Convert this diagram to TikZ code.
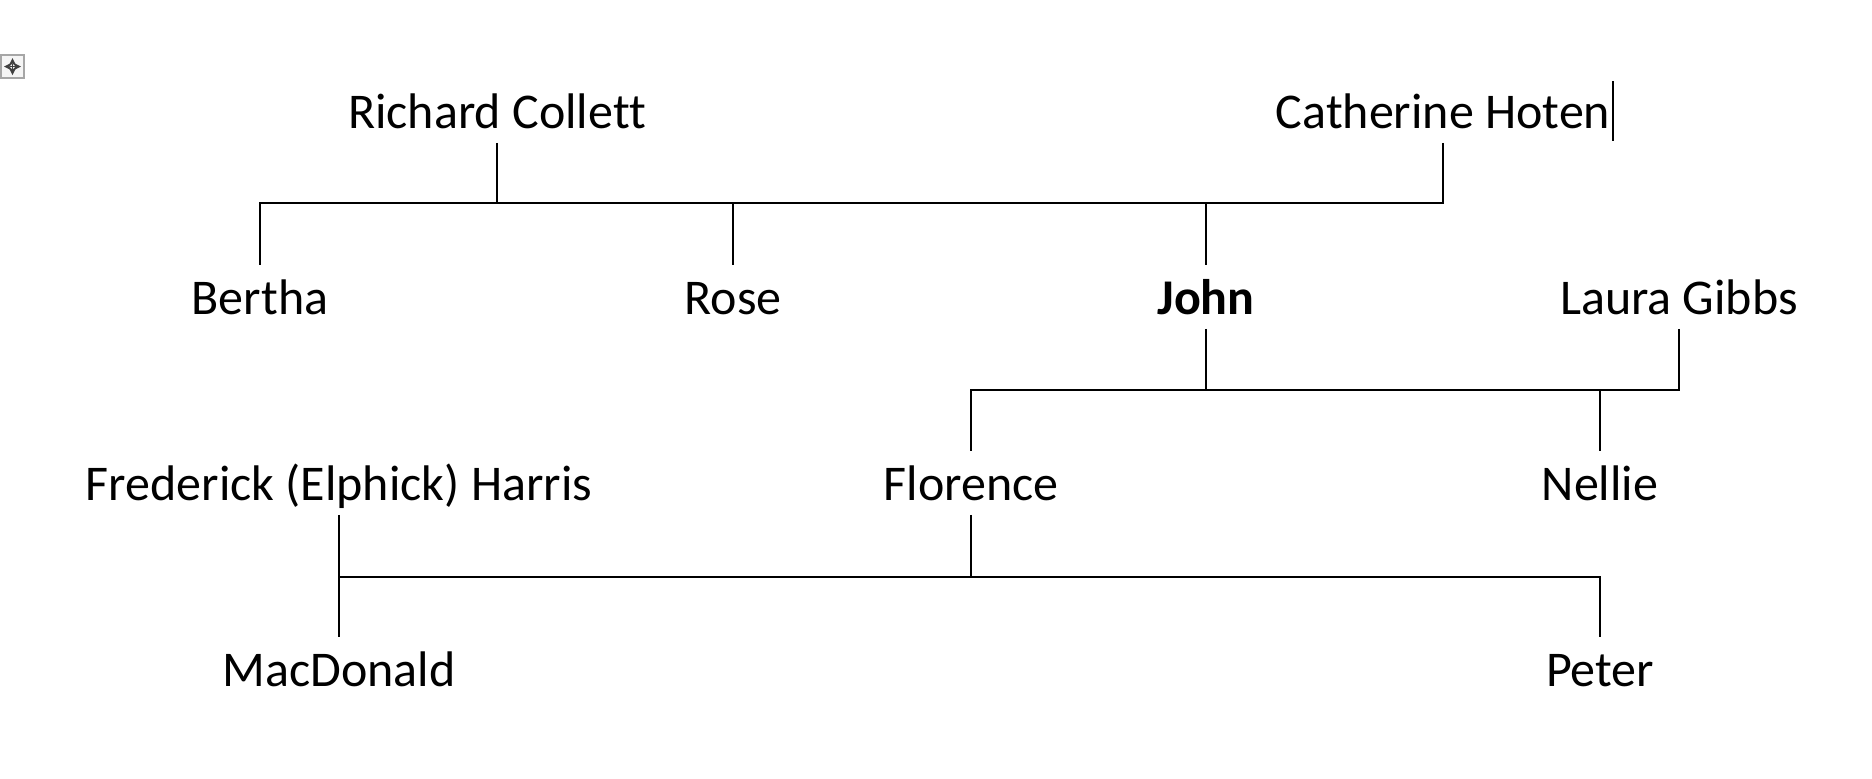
\documentclass[tikz,border=0pt]{standalone}
\usepackage{fontspec}
\setmainfont{Carlito}[Ligatures=NoCommon]

\begin{document}
\begin{tikzpicture}[x=0.5pt,y=-0.5pt,line width=0.9pt]
  \tikzstyle{person}=[anchor=base,inner xsep=0pt,inner ysep=7pt,text height=17pt,text depth=0pt,font=\fontsize{25}{30}\selectfont]
  \useasboundingbox (0,0) rectangle (1872,778);

  % move handle and text cursor
  \draw[gray!70,fill=gray!8,line width=0.8pt] (1,55) rectangle (24,78);
  \draw[black!75,line width=0.9pt,<->,>=stealth] (12.5,58) -- (12.5,75);
  \draw[black!75,line width=0.9pt,<->,>=stealth] (4,66.5) -- (21,66.5);
  \draw[line width=1pt] (1613,81) -- (1613,141);

  \node[person] (Richard) at (497,128) {Richard Collett};
  \node[person] (Catherine) at (1443,128) {Catherine Hoten};
  \node[person] (Bertha) at (260,314) {Bertha};
  \node[person] (Rose) at (733,314) {Rose};
  \node[person] (John) at (1206,314) {\textbf{John}};
  \node[person] (Laura) at (1679,314) {Laura Gibbs};
  \node[person] (Frederick) at (339,500) {Frederick (Elphick) Harris};
  \node[person] (Florence) at (971,500) {Florence};
  \node[person] (Nellie) at (1600,500) {Nellie};
  \node[person] (MacDonald) at (339,686) {MacDonald};
  \node[person] (Peter) at (1600,686) {Peter};

  \coordinate (bar1) at (0,203);
  \coordinate (bar2) at (0,390);
  \coordinate (bar3) at (0,577);

  \draw (Richard.south) -- (Richard |- bar1);
  \draw (Catherine.south) -- (Catherine |- bar1) -- (Bertha |- bar1) -- (Bertha.north);
  \draw (Rose |- bar1) -- (Rose.north);
  \draw (John |- bar1) -- (John.north);

  \draw (John.south) -- (John |- bar2);
  \draw (Laura.south) -- (Laura |- bar2) -- (Florence |- bar2) -- (Florence.north);
  \draw (Nellie |- bar2) -- (Nellie.north);

  \draw (Florence.south) -- (Florence |- bar3);
  \draw (Frederick.south) -- (MacDonald.north);
  \draw (Frederick |- bar3) -- (Peter |- bar3) -- (Peter.north);
\end{tikzpicture}
\end{document}
